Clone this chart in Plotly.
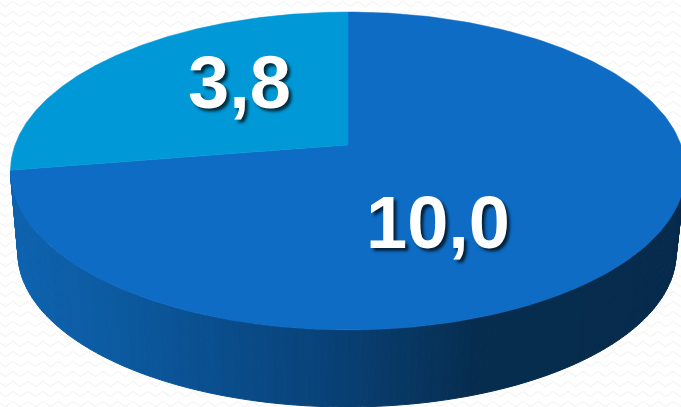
import numpy as np
import plotly.graph_objects as go

categories = ["A", "B"]
values = [10.0, 3.8]
slice_colors = ["#0E6CC4", "#0098D6"]
value_labels = ["10,0", "3,8"]

W, H = 681, 407
CX, CY, R, C, A = 348.0, 145.0, 333.0, 0.1635, -131.0
WALL_STOPS = [(18, (14, 98, 174)), (100, (12, 92, 163)), (200, (10, 80, 145)),
              (350, (8, 63, 114)), (480, (6, 44, 78)), (681, (6, 43, 77))]


def top(theta):
    """theta is clockwise from 12 o'clock; perspective projection of the disc."""
    u, v = np.sin(theta), np.cos(theta)
    d = C * v + 1
    return CX + R * u / d, (A * v + CY) / d


def bottom(theta):
    x, y = top(theta)
    return 347 + (x - CX) * 329 / 337.5, 253 + (y - 171) * 154 / 159


def wall_color(x):
    xs = [s[0] for s in WALL_STOPS]
    rgb = [np.interp(x, xs, [s[1][i] for s in WALL_STOPS]) for i in range(3)]
    return "rgb(%d,%d,%d)" % tuple(int(round(c)) for c in rgb)


fig = go.Figure()

# Faint wavy background texture
bx, by = [], []
for row in range(4, H + 10, 10):
    for k in range(-1, W // 15 + 2):
        bx += [13 + 15 * k - 7.5, 13 + 15 * k]
        by += [row + 2.5, row - 2.5]
    bx.append(None)
    by.append(None)
fig.add_trace(go.Scatter(x=bx, y=by, mode="lines", line=dict(color="#F6F6F6", width=1.5),
                         hoverinfo="skip", showlegend=False))

# Side wall: narrow strips across the lower half of the rim
edges = np.linspace(np.pi * 0.5 + 0.164, np.pi * 1.5 - 0.164, 161)
for t0, t1 in zip(edges[:-1], edges[1:]):
    ts = np.array([t0, t1])
    xa, ya = top(ts)
    xb, yb = bottom(ts)
    col = wall_color(float((xa.mean() + xb.mean()) / 2))
    fig.add_trace(go.Scatter(
        x=[xa[0], xa[1], xb[1], xb[0], xa[0]], y=[ya[0], ya[1], yb[1], yb[0], ya[0]],
        mode="lines", fill="toself", fillcolor=col, line=dict(color=col, width=1),
        hoverinfo="skip", showlegend=False))

# Top face, from the values
total = sum(values)
start = 0.0
for cat, val, col in zip(categories, values, slice_colors):
    sweep = val / total * 2 * np.pi
    ts = np.linspace(start, start + sweep, 200)
    xs, ys = top(ts)
    fig.add_trace(go.Scatter(
        x=[CX, *xs, CX], y=[CY, *ys, CY], mode="lines", fill="toself",
        fillcolor=col, line=dict(color=col, width=0.5), name=cat,
        hoverinfo="skip", showlegend=False))
    start += sweep

label_pos = [(438, 222), (239, 82)]
annotations = [
    dict(x=x, y=y, text=t, showarrow=False, xanchor="center", yanchor="middle",
         font=dict(family="Liberation Sans", size=74, color="white", weight="bold",
                   shadow="3px 3px 3px rgba(0,0,0,0.7)"))
    for t, (x, y) in zip(value_labels, label_pos)
]

fig.update_layout(
    width=W, height=H, margin=dict(l=0, r=0, t=0, b=0),
    paper_bgcolor="#FFFFFF", plot_bgcolor="#FFFFFF",
    xaxis=dict(range=[0, W], visible=False, fixedrange=True),
    yaxis=dict(range=[H, 0], visible=False, fixedrange=True),
    annotations=annotations,
)
fig.write_html("out.html", config={"displayModeBar": False},
               post_script="document.body.style.margin='0';document.body.style.overflow='hidden';")
